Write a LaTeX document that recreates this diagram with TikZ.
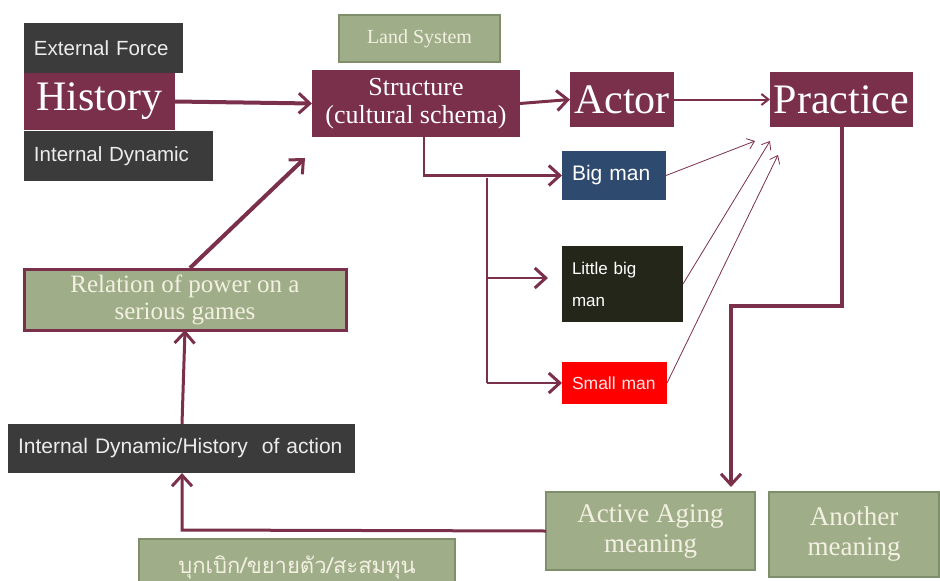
\documentclass[tikz,border=0pt]{standalone}
\usepackage{fontspec}
\setmainfont{Liberation Serif}
\setsansfont{Liberation Sans}
\newfontfamily\thaifont[Script=Thai]{Loma}
\usetikzlibrary{arrows.meta}
\definecolor{maroon}{HTML}{7A2F4A}
\definecolor{darkgr}{HTML}{3B3B3B}
\definecolor{sage}{HTML}{9FAE89}
\definecolor{sageb}{HTML}{7F8F6C}
\definecolor{bigblue}{HTML}{2E4A6E}
\definecolor{nearblack}{HTML}{25261A}
\definecolor{cream}{HTML}{F3F0E2}
\begin{document}
\begin{tikzpicture}[x=1pt,y=-1pt,
  box/.style={rectangle,inner sep=0pt,outer sep=0pt},
  darkbox/.style={box,fill=darkgr,text=white!85!gray,font=\sffamily\fontsize{20.5}{22}\selectfont,align=left},
  redbox/.style={box,fill=maroon,text=white},
  greenbox/.style={box,fill=sage,draw=sageb,line width=2.5pt,text=cream,font=\fontsize{20}{22}\selectfont,align=center},
  arr/.style={draw=maroon,-{Straight Barb[length=11pt,width=20pt,line width=3pt]}},
  thinarr/.style={draw=maroon,line width=0.8pt,-{Straight Barb[length=7pt,width=11pt]}}
]
\useasboundingbox (0,0) rectangle (940,581);
\clip (0,0) rectangle (940,581);
% nodes
\node[darkbox,minimum width=159pt,minimum height=50pt,text width=139pt] (ext) at (103.5,48) {External Force};
\node[redbox,minimum width=151pt,minimum height=57pt,font=\fontsize{42}{44}\selectfont] (hist) at (99.5,101.5) {History};
\node[darkbox,minimum width=189pt,minimum height=50pt,text width=169pt] (intd) at (118.5,156) {Internal Dynamic};
\node[greenbox,minimum width=161pt,minimum height=47pt,font=\fontsize{20}{22}\selectfont] (land) at (419.5,38.5) {Land System};
\node[redbox,minimum width=208pt,minimum height=67pt,align=center,font=\fontsize{26}{28}\selectfont] (struct) at (416,103.5) {Structure\\(cultural schema)};
\node[redbox,minimum width=104pt,minimum height=55pt,font=\fontsize{42}{44}\selectfont] (actor) at (622,99.5) {Actor};
\node[redbox,minimum width=143pt,minimum height=55pt,font=\fontsize{42}{44}\selectfont] (prac) at (841.5,99.5) {Practice};
\node[box,fill=bigblue,text=white,minimum width=104pt,minimum height=49pt,text width=84pt,align=left,font=\sffamily\fontsize{21}{23}\selectfont] (big) at (614,175.5) {Big man};
\node[box,fill=nearblack,text=white,minimum width=121pt,minimum height=76pt,text width=101pt,align=left,font=\sffamily\fontsize{17}{32}\selectfont] (little) at (622.5,284) {Little big\\man};
\node[box,fill=red,text=white!90!red,minimum width=105pt,minimum height=42pt,text width=85pt,align=left,font=\sffamily\fontsize{17.5}{19}\selectfont] (small) at (614.5,383) {Small man};
\node[greenbox,draw=maroon,line width=3pt,minimum width=322pt,minimum height=61pt,font=\fontsize{25}{27}\selectfont] (rel) at (185,299.5) {Relation of power on a\\serious games};
\node[darkbox,minimum width=347pt,minimum height=49pt,text width=327pt,font=\sffamily\fontsize{21}{23}\selectfont] (ida) at (181.5,448.5) {Internal Dynamic/History\ \ of action};
\node[greenbox,minimum width=316pt,minimum height=54pt,anchor=north,text height=20pt,font=\fontsize{22}{24}\selectfont] (thai) at (297,539) {\thaifont บุกเบิก/ขยายตัว/สะสมทุน};
\node[greenbox,minimum width=209pt,minimum height=78pt,font=\fontsize{27}{30}\selectfont] (act) at (650.5,531) {Active Aging\\meaning};
\node[greenbox,minimum width=170pt,minimum height=85pt,font=\fontsize{27}{30}\selectfont] (ano) at (854,534.5) {Another\\meaning};
% coordinates
\coordinate (sb) at (424,137);
\coordinate (br) at (487,178);
\coordinate (pb) at (842,127);
% connectors
\draw[arr,line width=4pt] (hist.east) -- (struct.west);
\draw[arr,line width=3pt] (struct.east) -- (actor.west);
\draw[thinarr,line width=2pt] (actor.east) -- (prac.west);
\draw[arr,line width=2.5pt] (sb) |- (big.west);
\draw[draw=maroon,line width=2.5pt] (br) |- (487,383);
\draw[arr,line width=2.5pt] (487,278) -- (548,278);
\draw[arr,line width=2.5pt] (487,383) -- (small.west);
\draw[thinarr] (big.east) -- (755,141);
\draw[thinarr] (little.east) -- (770,141);
\draw[thinarr] (small.east) -- (778,155);
\draw[arr,line width=3.5pt] (pb) -- (842,306) -- (731,306) -- (731,487);
\draw[arr,line width=3pt] (act.west) -- (182,530) -- (ida.south -| 182,0);
\draw[arr,line width=3pt] (ida.north -| 182,0) -- (rel.south);
\draw[arr,line width=4pt] (190,268) -- (305,158);
\end{tikzpicture}
\end{document}
